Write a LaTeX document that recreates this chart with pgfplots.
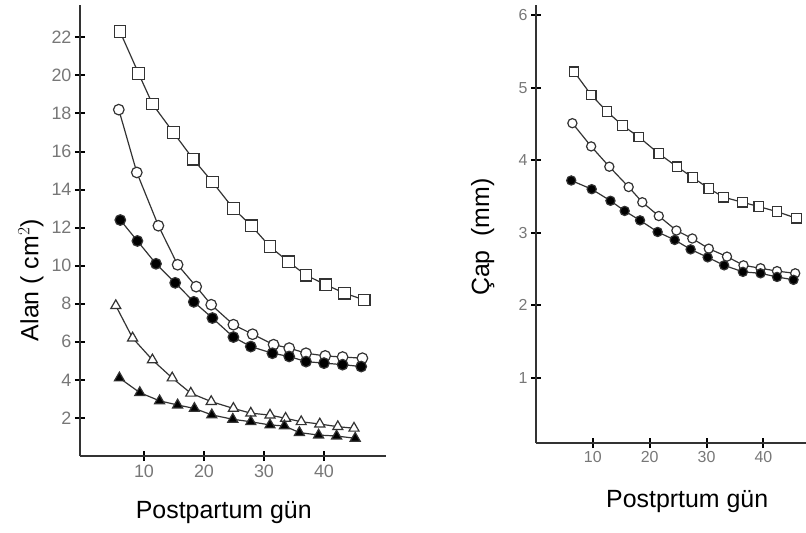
\documentclass[border=0pt]{standalone}
\usepackage{pgfplots}
\pgfplotsset{compat=1.18}
\usepackage{fontspec}
\setmainfont{Liberation Sans}
\definecolor{tickgray}{HTML}{777777}
\definecolor{linegray}{HTML}{333333}
\pgfplotsset{
  myaxis/.style={
    scale only axis,
    axis lines=left,
    axis line style={-, line width=1.4bp, draw=linegray},
    tick align=center,
    major tick length=10bp,
    tick style={draw=black, line width=2bp},
    /pgf/number format/assume math mode=true,
    tick label style={font=\fontsize{18}{18}\selectfont, text=tickgray},
    label style={font=\fontsize{25}{25}\selectfont},
    every axis plot/.append style={line width=1.2bp, draw=linegray, mark options={draw=black, line width=1.6bp, solid}},
    clip=false,
  },
  osq/.style={mark=square*, mark size=5.8bp, mark options={fill=white}},
  ocirc/.style={mark=*, mark size=5.3bp, mark options={fill=white}},
  fcirc/.style={mark=*, mark size=5.3bp, mark options={fill=black}},
  otri/.style={mark=triangle*, mark size=5.8bp, mark options={fill=white}},
  ftri/.style={mark=triangle*, mark size=5.8bp, mark options={fill=black}},
}
\begin{document}
\begin{tikzpicture}
\useasboundingbox (0,0) rectangle (806bp,533bp);
% ---------- left panel ----------
\begin{axis}[myaxis,
  at={(84bp,77bp)}, anchor=origin,
  width=306bp, height=451bp,
  xmin=-0.67, xmax=50.33, ymin=0, ymax=23.7,
  xtick={10,20,30,40}, ytick={2,4,...,22},
  xlabel={Postpartum gün},
  ylabel={Alan ( cm$^2$)},
  xlabel style={at={(axis description cs:0.47,0)}, anchor=north, yshift=-42bp},
  ylabel style={at={(axis description cs:0,0.39)}, anchor=south, yshift=33bp},
]
\addplot[osq] coordinates {(6,22.3)(9.1,20.1)(11.4,18.5)(14.9,17.0)(18.2,15.6)(21.4,14.4)(24.9,13.0)(27.9,12.1)(31,11.0)(34.1,10.2)(37,9.5)(40.3,9.0)(43.4,8.56)(46.7,8.2)};
\addplot[ocirc] coordinates {(5.8,18.2)(8.8,14.9)(12.4,12.1)(15.6,10.05)(18.7,8.9)(21.2,7.95)(24.9,6.9)(28.1,6.4)(31.6,5.85)(34.2,5.67)(37,5.4)(40.2,5.26)(43.1,5.2)(46.4,5.14)};
\addplot[fcirc] coordinates {(6.05,12.4)(8.9,11.3)(12,10.1)(15.2,9.1)(18.3,8.1)(21.4,7.25)(24.9,6.25)(27.8,5.75)(31.4,5.4)(34.2,5.23)(37,4.96)(40,4.88)(43.1,4.8)(46.2,4.7)};
\addplot[otri] coordinates {(5.3,7.9)(8.1,6.2)(11.4,5.05)(14.7,4.1)(17.8,3.3)(21.2,2.86)(24.9,2.5)(27.8,2.25)(31,2.15)(33.6,1.98)(36.2,1.8)(39.3,1.68)(42.3,1.54)(45,1.46)};
\addplot[ftri] coordinates {(5.9,4.1)(9.3,3.33)(12.6,2.9)(15.6,2.68)(18.4,2.5)(21.3,2.16)(24.8,1.93)(27.8,1.8)(31,1.63)(33.4,1.58)(35.9,1.23)(39.1,1.1)(42.1,1.05)(45.2,0.93)};
\end{axis}
% ---------- right panel ----------
\begin{axis}[myaxis,
  at={(536bp,90bp)}, anchor=origin,
  width=270bp, height=438bp,
  xmin=0, xmax=47.5, ymin=0.1, ymax=6.14,
  xtick={10,20,30,40}, ytick={1,2,...,6},
  tick label style={font=\fontsize{16}{16}\selectfont, text=tickgray},
  xlabel={Postprtum gün},
  ylabel={Çap\ \ (mm)},
  xlabel style={at={(axis description cs:0.56,0)}, anchor=north, yshift=-44bp},
  ylabel style={at={(axis description cs:0,0.47)}, anchor=south, yshift=38bp},
  osq/.style={mark=square*, mark size=4.8bp, mark options={fill=white}},
  ocirc/.style={mark=*, mark size=4.6bp, mark options={fill=white}},
  fcirc/.style={mark=*, mark size=4.6bp, mark options={fill=black}},
]
\addplot[osq] coordinates {(6.7,5.22)(9.7,4.9)(12.5,4.67)(15.2,4.48)(18.1,4.32)(21.6,4.09)(24.8,3.91)(27.6,3.76)(30.4,3.61)(33,3.49)(36.3,3.42)(39.2,3.36)(42.4,3.29)(45.8,3.2)};
\addplot[ocirc] coordinates {(6.4,4.51)(9.7,4.19)(12.9,3.91)(16.3,3.63)(18.7,3.42)(21.6,3.23)(24.7,3.03)(27.5,2.92)(30.4,2.78)(33.6,2.67)(36.5,2.55)(39.5,2.51)(42.4,2.47)(45.6,2.44)};
\addplot[fcirc] coordinates {(6.2,3.72)(9.8,3.6)(13.1,3.44)(15.6,3.3)(18.3,3.17)(21.4,3.01)(24.4,2.9)(27.2,2.77)(30.2,2.66)(33.1,2.55)(36.4,2.46)(39.5,2.44)(42.4,2.39)(45.3,2.35)};
\end{axis}
\end{tikzpicture}
\end{document}
